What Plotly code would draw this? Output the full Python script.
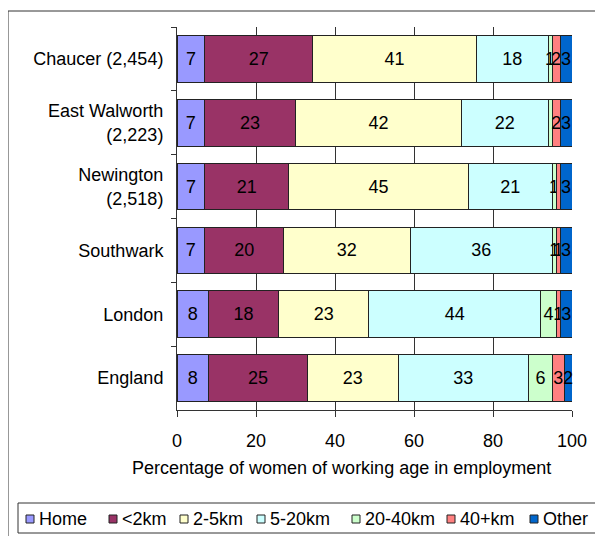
import plotly.graph_objects as go

categories = ["Chaucer (2,454)", "East Walworth<br>(2,223)", "Newington<br>(2,518)",
              "Southwark", "London", "England"]
series_names = ["Home", "<2km", "2-5km", "5-20km", "20-40km", "40+km", "Other"]
home = [7, 7, 7, 7, 8, 8]
lt2 = [27, 23, 21, 20, 18, 25]
km2_5 = [41, 42, 45, 32, 23, 23]
km5_20 = [18, 22, 21, 36, 44, 33]
km20_40 = [1, 1, 1, 1, 4, 6]
km40p = [2, 2, 1, 1, 1, 3]
other = [3, 3, 3, 3, 3, 2]
# labels shown in the chart (some thin slices carry no visible label)
km20_40_labels = ["1", "", "1", "1", "4", "6"]
km40p_labels = ["2", "2", "", "1", "1", "3"]

colors = ["#9999FF", "#993366", "#FFFFCC", "#CCFFFF", "#CCFFCC", "#FF8080", "#0066CC"]
values = [home, lt2, km2_5, km5_20, km20_40, km40p, other]
labels = [[str(v) for v in home], [str(v) for v in lt2], [str(v) for v in km2_5],
          [str(v) for v in km5_20], km20_40_labels, km40p_labels, [str(v) for v in other]]

FONT = "Liberation Sans, Arial"
fig = go.Figure()
for name, vals, col, txt in zip(series_names, values, colors, labels):
    fig.add_trace(go.Bar(
        y=categories, x=vals, name=name, orientation="h",
        marker=dict(color=col, line=dict(color="#222222", width=1)),
        text=txt, texttemplate="%{text}", textposition="inside",
        insidetextanchor="middle", textangle=0, constraintext="none",
        textfont=dict(size=18, color="black", family=FONT),
        cliponaxis=False, showlegend=False,
    ))

# page is rendered with an 8px body margin; work in page pixels
OFF = 8
W, H = 603, 536
PL, PR, PT, PB = 177, 572, 27, 410   # plot area in page pixels
L, T = PL - OFF, PT - OFF
R, B = W - (PR - OFF), H - (PB - OFF)
pw, ph = PR - PL, PB - PT

def px_x(px):
    return (px - PL) / pw

def px_y(py):
    return (PB - py) / ph

shapes = [
    # outer chart frame
    dict(type="rect", xref="paper", yref="paper",
         x0=px_x(8), x1=px_x(640), y0=px_y(600), y1=px_y(11),
         line=dict(color="#333333", width=1), layer="below"),
    # legend box
    dict(type="rect", xref="paper", yref="paper",
         x0=px_x(18), x1=px_x(597), y0=px_y(533), y1=px_y(503),
         line=dict(color="#333333", width=1), fillcolor="white", layer="above"),
]
annotations = [dict(text="Percentage of women of working age in employment",
                    xref="paper", yref="paper", x=px_x(341), y=px_y(468),
                    xanchor="center", yanchor="middle",
                    showarrow=False, font=dict(size=18, family=FONT))]

# legend entries (square + label)
legend_x = [26, 109, 180, 257, 352, 447, 530]
ly = 519
for name, col, lx in zip(series_names, colors, legend_x):
    shapes.append(dict(type="rect", xref="paper", yref="paper",
                       x0=px_x(lx), x1=px_x(lx + 8), y0=px_y(ly + 4), y1=px_y(ly - 4),
                       line=dict(color="#222222", width=1), fillcolor=col, layer="above"))
    annotations.append(dict(text=name, xref="paper", yref="paper",
                            x=px_x(lx + 11), y=px_y(ly), xanchor="left", yanchor="middle",
                            showarrow=False, font=dict(size=18, family=FONT)))

fig.update_layout(
    width=W, height=H,
    margin=dict(l=L, r=R, t=T, b=B, autoexpand=False),
    barmode="stack", barnorm="percent", bargap=0.27,
    plot_bgcolor="white", paper_bgcolor="white",
    font=dict(family=FONT, size=18, color="black"),
    xaxis=dict(range=[0, 100], tickvals=[0, 20, 40, 60, 80, 100],
               showgrid=True, gridcolor="#333333", gridwidth=1,
               showline=True, linecolor="#333333", linewidth=1,
               ticks="outside", ticklen=6, tickcolor="#333333",
               ticklabelstandoff=8,
               zeroline=False, tickfont=dict(size=18), automargin=False),
    yaxis=dict(autorange="reversed", showline=True, linecolor="#333333", linewidth=1,
               ticks="outside", ticklen=5, tickcolor="#333333", tickson="boundaries",
               ticklabelstandoff=9,
               showgrid=False, tickfont=dict(size=18), automargin=False),
    showlegend=False,
    shapes=shapes,
    annotations=annotations,
)

fig.write_html("out.html")
